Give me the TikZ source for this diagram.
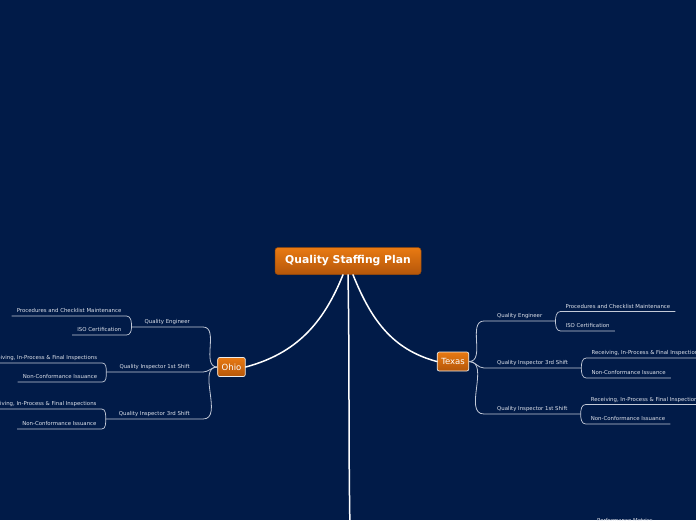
\documentclass[tikz,border=0pt]{standalone}
\usepackage{fontspec}
\setmainfont{DejaVu Sans}
\usepackage{xcolor}
\usetikzlibrary{positioning,calc}
\definecolor{navy}{HTML}{011B48}
\definecolor{orangetop}{HTML}{E97A12}
\definecolor{orangebot}{HTML}{B4560A}
\definecolor{orangeedge}{HTML}{9A4A08}
\definecolor{linegray}{HTML}{C3CAD8}
\definecolor{textgray}{HTML}{DDE1EA}
\tikzset{
  rootbox/.style={draw=orangeedge,top color=orangetop,bottom color=orangebot,
                  rounded corners=3pt,line width=0.5pt,text=white,
                  font=\fontsize{10.8}{12}\selectfont\bfseries,
                  minimum width=146pt,minimum height=27pt},
  sitebox/.style={draw=white!85!gray,top color=orangetop,bottom color=orangebot,
                  rounded corners=2pt,line width=0.7pt,text=white,
                  font=\fontsize{8.5}{10}\selectfont,
                  inner xsep=4pt,minimum height=19pt},
  rolelabel/.style={text=textgray,font=\fontsize{5.4}{6}\selectfont,
                    inner xsep=13pt,inner ysep=2.5pt,text depth=0.8pt},
  tasklabel/.style={text=textgray,font=\fontsize{5.4}{6}\selectfont,
                    inner xsep=5pt,inner ysep=2.5pt,text depth=0.8pt},
  trunk/.style={draw=white,line width=1.5pt,line cap=round},
  branch/.style={draw=linegray,line width=0.8pt},
  twig/.style={draw=linegray,line width=0.7pt}
}
\begin{document}
\begin{tikzpicture}[x=1pt,y=1pt]
  \fill[navy] (0,0) rectangle (696,-520);
  \useasboundingbox (0,0) rectangle (696,-520);
  \clip (0,0) rectangle (696,-520);

  \node[rootbox] (root) at (348,-261) {Quality Staffing Plan};
  \node[sitebox] (ohio) at (231.5,-367) {Ohio};
  \node[sitebox] (texas) at (453,-361.5) {Texas};
  \coordinate (down) at (350,-530);

  \draw[trunk] ([xshift=-5pt]root.south) to[out=-112,in=15] (ohio.east);
  \draw[trunk] ([xshift=5pt]root.south) to[out=-68,in=165] (texas.west);
  \draw[trunk] (root.south) to[out=-89,in=91] (down);

  % Ohio
  \node[rolelabel,anchor=south east] (oEng) at (203,-327) {Quality Engineer};
  \node[rolelabel,anchor=south east] (oIns1) at (203,-372) {Quality Inspector 1st Shift};
  \node[rolelabel,anchor=south east] (oIns3) at (203,-419) {Quality Inspector 3rd Shift};
  \node[tasklabel,anchor=south east] (oEngA) at ($(oEng.south west)+(-5,11)$)
    {Procedures and Checklist Maintenance};
  \node[tasklabel,anchor=south east] (oEngB) at ($(oEng.south west)+(-5,-8)$)
    {ISO Certification};
  \node[tasklabel,anchor=south east] (oIns1A) at ($(oIns1.south west)+(-4,9)$)
    {Receiving, In-Process \& Final Inspections};
  \node[tasklabel,anchor=south east] (oIns1B) at ($(oIns1.south west)+(-4,-10)$)
    {Non-Conformance Issuance};
  \node[tasklabel,anchor=south east] (oIns3A) at ($(oIns3.south west)+(-4,10)$)
    {Receiving, In-Process \& Final Inspections};
  \node[tasklabel,anchor=south east] (oIns3B) at ($(oIns3.south west)+(-4,-10)$)
    {Non-Conformance Issuance};

  \foreach \r in {oEng,oIns1,oIns3}
    \draw[branch] (ohio.west) to[out=180,in=0] (\r.south east) -- (\r.south west);
  \foreach \r/\t in {oEng/oEngA,oIns1/oIns1A,oIns3/oIns3A}
    \draw[twig] (\r.south west) to[out=90,in=0] (\t.south east) -- (\t.south west);
  \foreach \r/\t in {oEng/oEngB,oIns1/oIns1B,oIns3/oIns3B}
    \draw[twig] (\r.south west) to[out=-90,in=0] (\t.south east) -- (\t.south west);

  % Texas
  \node[rolelabel,anchor=south west] (tEng) at (484,-321) {Quality Engineer};
  \node[rolelabel,anchor=south west] (tIns3) at (484,-368) {Quality Inspector 3rd Shift};
  \node[rolelabel,anchor=south west] (tIns1) at (484,-414) {Quality Inspector 1st Shift};
  \node[tasklabel,anchor=south west] (tEngA) at ($(tEng.south east)+(5,9.5)$)
    {Procedures and Checklist Maintenance};
  \node[tasklabel,anchor=south west] (tEngB) at ($(tEng.south east)+(5,-10)$)
    {ISO Certification};
  \node[tasklabel,anchor=south west] (tIns3A) at ($(tIns3.south east)+(5,10)$)
    {Receiving, In-Process \& Final Inspections};
  \node[tasklabel,anchor=south west] (tIns3B) at ($(tIns3.south east)+(5,-10)$)
    {Non-Conformance Issuance};
  \node[tasklabel,anchor=south west] (tIns1A) at ($(tIns1.south east)+(5,9.5)$)
    {Receiving, In-Process \& Final Inspections};
  \node[tasklabel,anchor=south west] (tIns1B) at ($(tIns1.south east)+(5,-10)$)
    {Non-Conformance Issuance};

  \foreach \r in {tEng,tIns3,tIns1}
    \draw[branch] (texas.east) to[out=0,in=180] (\r.south west) -- (\r.south east);
  \foreach \r/\t in {tEng/tEngA,tIns3/tIns3A,tIns1/tIns1A}
    \draw[twig] (\r.south east) to[out=90,in=180] (\t.south west) -- (\t.south east);
  \foreach \r/\t in {tEng/tEngB,tIns3/tIns3B,tIns1/tIns1B}
    \draw[twig] (\r.south east) to[out=-90,in=180] (\t.south west) -- (\t.south east);

  \node[tasklabel] (perf) at (625,-521) {Performance Metrics};
\end{tikzpicture}
\end{document}
